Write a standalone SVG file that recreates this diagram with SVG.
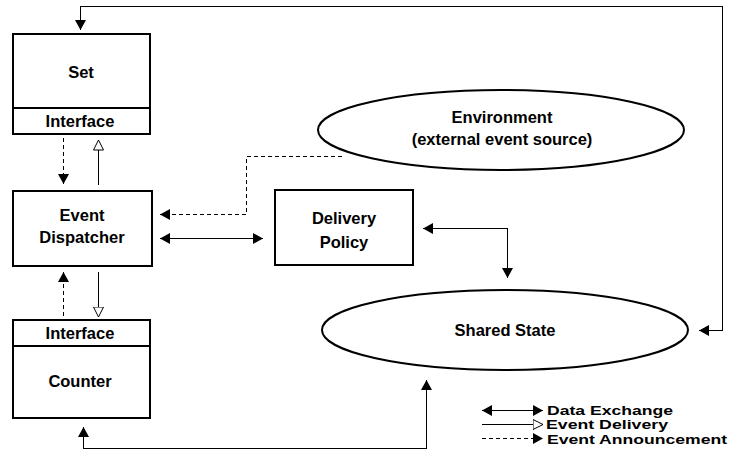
<svg xmlns="http://www.w3.org/2000/svg" width="734" height="468" viewBox="0 0 734 468">
<style>
.box{fill:#fff;stroke:#000;stroke-width:2}
.ell{fill:#fff;stroke:#000;stroke-width:2}
.t{font-family:"Liberation Sans",Arial,sans-serif;font-weight:bold;font-size:16.5px;fill:#000;text-anchor:middle;dominant-baseline:central}
.lt{text-anchor:start;font-size:13.5px}
.c{fill:none;stroke:#000;stroke-width:1;shape-rendering:crispEdges}
.d{stroke-dasharray:4,3}
.fa{marker-end:url(#fill)}
.fb{marker-start:url(#fill)}
.h{marker-end:url(#hollow)}
</style>
<defs>
<marker id="fill" markerUnits="userSpaceOnUse" markerWidth="12" markerHeight="12" refX="10" refY="5.5" orient="auto-start-reverse" viewBox="0 0 12 12">
<path d="M0,0 L10,5.5 L0,11 z" fill="#000"/>
</marker>
<marker id="hollow" markerUnits="userSpaceOnUse" markerWidth="12" markerHeight="12" refX="10.5" refY="5.5" orient="auto" viewBox="0 0 12 12">
<path d="M0.5,0.5 L10.5,5.5 L0.5,10.5 z" fill="#fff" stroke="#000" stroke-width="1"/>
</marker>
</defs>
<rect width="734" height="468" fill="#fff"/>
<g id="connectors">
<path class="c fa fb" d="M80.5,30 L80.5,6.5 L722.5,6.5 L722.5,330.5 L699,330.5"/>
<path class="c fa fb" d="M83.5,427 L83.5,448.5 L426.5,448.5 L426.5,380"/>
<path class="c d fa" d="M63.5,138 L63.5,184"/>
<path class="c h" d="M98.5,185 L98.5,140"/>
<path class="c d fa" d="M63.5,316 L63.5,272"/>
<path class="c h" d="M98.5,272 L98.5,317"/>
<path class="c d fa" d="M342,156.5 L246.5,156.5 L246.5,214.5 L160,214.5"/>
<path class="c fa fb" d="M160,238.5 L263,238.5"/>
<path class="c fa fb" d="M423,228.5 L507.5,228.5 L507.5,278"/>
</g>
<g id="set">
<rect class="box" x="13" y="34" width="137" height="100"/>
<line x1="13" y1="108" x2="150" y2="108" stroke="#000" stroke-width="2"/>
<text class="t" x="81" y="72">Set</text>
<text class="t" x="80" y="121">Interface</text>
</g>
<g id="event-dispatcher">
<rect class="box" x="13" y="191" width="139" height="75"/>
<text class="t" x="82" y="215">Event</text>
<text class="t" x="82" y="237">Dispatcher</text>
</g>
<g id="counter">
<rect class="box" x="13" y="320" width="137" height="98"/>
<line x1="13" y1="346" x2="150" y2="346" stroke="#000" stroke-width="2"/>
<text class="t" x="80" y="333">Interface</text>
<text class="t" x="80" y="381">Counter</text>
</g>
<g id="delivery-policy">
<rect class="box" x="275" y="190" width="138" height="75"/>
<text class="t" x="344" y="218">Delivery</text>
<text class="t" x="344" y="242">Policy</text>
</g>
<g id="environment">
<ellipse class="ell" cx="501" cy="130" rx="183" ry="40"/>
<text class="t" x="502" y="117">Environment</text>
<text class="t" x="502" y="139">(external event source)</text>
</g>
<g id="shared-state">
<ellipse class="ell" cx="505" cy="330" rx="183" ry="40"/>
<text class="t" x="505" y="330">Shared State</text>
</g>
<g id="legend">
<path class="c fa fb" d="M482,410.5 L543,410.5"/>
<text class="t lt" x="547" y="410" textLength="126" lengthAdjust="spacingAndGlyphs">Data Exchange</text>
<path class="c h" d="M482,424.5 L543,424.5"/>
<text class="t lt" x="546" y="424.5" textLength="122" lengthAdjust="spacingAndGlyphs">Event Delivery</text>
<path class="c d fa" d="M482,438.5 L543,438.5"/>
<text class="t lt" x="547" y="439" textLength="180" lengthAdjust="spacingAndGlyphs">Event Announcement</text>
</g>
</svg>
